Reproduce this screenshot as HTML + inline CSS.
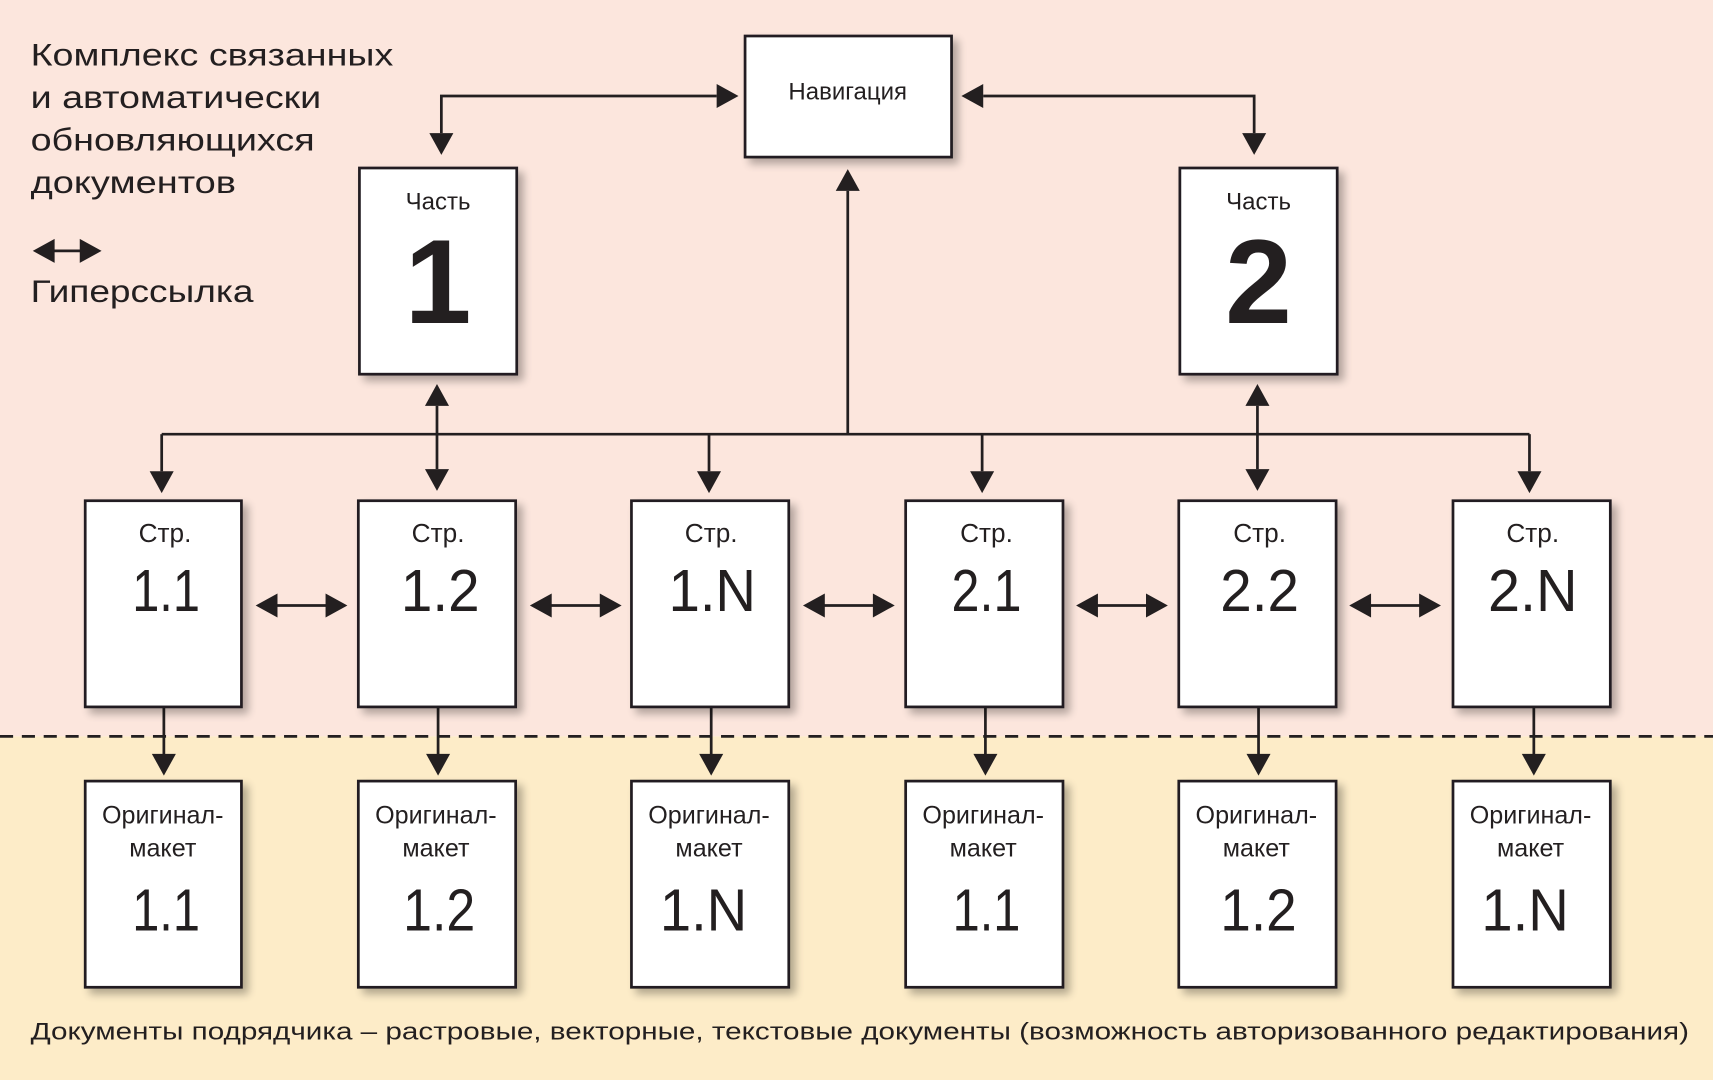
<!DOCTYPE html>
<html><head><meta charset="utf-8"><style>
html,body{margin:0;padding:0;width:1713px;height:1080px;overflow:hidden}
svg{display:block}
text{font-family:"Liberation Sans","DejaVu Sans",sans-serif;fill:#231f20}
</style></head><body>
<svg width="1713" height="1080" viewBox="0 0 1568 990" preserveAspectRatio="none" xmlns="http://www.w3.org/2000/svg">
<defs>
<filter id="sh" x="-20%" y="-20%" width="150%" height="150%"><feGaussianBlur in="SourceAlpha" stdDeviation="4"/><feOffset dx="5" dy="5"/><feComponentTransfer><feFuncA type="linear" slope="0.3"/></feComponentTransfer><feMerge><feMergeNode/><feMergeNode in="SourceGraphic"/></feMerge></filter>
<marker id="a" viewBox="0 0 10 10" refX="10" refY="5" markerWidth="10" markerHeight="10" markerUnits="userSpaceOnUse" orient="auto-start-reverse"><path d="M0,0L10,5L0,10z" fill="#231f20"/></marker>
<path id="ah" d="M0,0L-20,-11L-20,11z" fill="#231f20"/>
</defs>
<rect x="0" y="0" width="1568" height="675" fill="#fce6dd"/>
<rect x="0" y="675" width="1568" height="315" fill="#fdecc8"/>
<line x1="0" y1="675" x2="1568" y2="675" stroke="#231f20" stroke-width="2.5" stroke-dasharray="12,8"/>

<text x="28" y="60" font-size="29" textLength="332" lengthAdjust="spacingAndGlyphs">Комплекс связанных</text>
<text x="28" y="99" font-size="29" textLength="266" lengthAdjust="spacingAndGlyphs">и автоматически</text>
<text x="28" y="138" font-size="29" textLength="260" lengthAdjust="spacingAndGlyphs">обновляющихся</text>
<text x="28" y="177" font-size="29" textLength="188" lengthAdjust="spacingAndGlyphs">документов</text>
<text x="28" y="277" font-size="29" textLength="204" lengthAdjust="spacingAndGlyphs">Гиперссылка</text>
<line x1="45" y1="230" x2="78" y2="230" stroke="#231f20" stroke-width="2.5"/>
<path d="M30,230L50,219L50,241zM93,230L73,219L73,241z" fill="#231f20"/>

<g stroke="#231f20" stroke-width="2.5" fill="none">
<polyline points="404,122 404,88 656,88"/>
<polyline points="900,88 1148,88 1148,122"/>
<line x1="776" y1="175" x2="776" y2="398"/>
<line x1="148" y1="398" x2="1400" y2="398"/>
<line x1="148" y1="398" x2="148" y2="432"/><line x1="649" y1="398" x2="649" y2="432"/>
<line x1="899" y1="398" x2="899" y2="432"/><line x1="1400" y1="398" x2="1400" y2="432"/>
<line x1="400" y1="372" x2="400" y2="430"/><line x1="1151" y1="372" x2="1151" y2="430"/>
</g>
<g fill="#231f20">
<path d="M404,142l-11,-20h22z"/><path d="M1148,142l-11,-20h22z"/>
<path d="M676,88l-20,-11v22z"/><path d="M880,88l20,-11v22z"/>
<path d="M776,155l-11,20h22z"/>
<path d="M148,452l-11,-20h22z"/><path d="M649,452l-11,-20h22z"/><path d="M899,452l-11,-20h22z"/><path d="M1400,452l-11,-20h22z"/>
<path d="M400,352l-11,20h22z"/><path d="M400,450l-11,-20h22z"/>
<path d="M1151,352l-11,20h22z"/><path d="M1151,450l-11,-20h22z"/>
</g>

<!-- horizontal double arrows -->
<g>
<g transform="translate(234,555)"><line x1="18" y1="0" x2="66" y2="0" stroke="#231f20" stroke-width="2.5"/><path d="M0,0l20,-11v22zM84,0l-20,-11v22z" fill="#231f20"/></g>
<g transform="translate(485,555)"><line x1="18" y1="0" x2="66" y2="0" stroke="#231f20" stroke-width="2.5"/><path d="M0,0l20,-11v22zM84,0l-20,-11v22z" fill="#231f20"/></g>
<g transform="translate(735,555)"><line x1="18" y1="0" x2="66" y2="0" stroke="#231f20" stroke-width="2.5"/><path d="M0,0l20,-11v22zM84,0l-20,-11v22z" fill="#231f20"/></g>
<g transform="translate(985,555)"><line x1="18" y1="0" x2="66" y2="0" stroke="#231f20" stroke-width="2.5"/><path d="M0,0l20,-11v22zM84,0l-20,-11v22z" fill="#231f20"/></g>
<g transform="translate(1235,555)"><line x1="18" y1="0" x2="66" y2="0" stroke="#231f20" stroke-width="2.5"/><path d="M0,0l20,-11v22zM84,0l-20,-11v22z" fill="#231f20"/></g>
</g>

<!-- down arrows to originals -->
<g stroke="#231f20" stroke-width="2.5">
<line x1="150" y1="648" x2="150" y2="692"/><line x1="401" y1="648" x2="401" y2="692"/><line x1="651" y1="648" x2="651" y2="692"/>
<line x1="902" y1="648" x2="902" y2="692"/><line x1="1152" y1="648" x2="1152" y2="692"/><line x1="1404" y1="648" x2="1404" y2="692"/>
</g>
<g fill="#231f20">
<path d="M150,711l-11,-20h22z"/><path d="M401,711l-11,-20h22z"/><path d="M651,711l-11,-20h22z"/>
<path d="M902,711l-11,-20h22z"/><path d="M1152,711l-11,-20h22z"/><path d="M1404,711l-11,-20h22z"/>
</g>

<g fill="#fff" stroke="#231f20" stroke-width="2.5" filter="url(#sh)">
<rect x="682" y="33" width="189" height="111"/>
<rect x="329" y="154" width="144" height="189"/>
<rect x="1080" y="154" width="144" height="189"/>
<rect x="78" y="459" width="143" height="189"/><rect x="328" y="459" width="144" height="189"/>
<rect x="578" y="459" width="144" height="189"/><rect x="829" y="459" width="144" height="189"/>
<rect x="1079" y="459" width="144" height="189"/><rect x="1330" y="459" width="144" height="189"/>
<rect x="78" y="716" width="143" height="189"/><rect x="328" y="716" width="144" height="189"/>
<rect x="578" y="716" width="144" height="189"/><rect x="829" y="716" width="144" height="189"/>
<rect x="1079" y="716" width="144" height="189"/><rect x="1330" y="716" width="144" height="189"/>
</g>

<text x="776" y="91" font-size="22" text-anchor="middle">Навигация</text>
<text x="401" y="192" font-size="22" text-anchor="middle">Часть</text>
<text x="401" y="296" font-size="110" text-anchor="middle" font-weight="bold">1</text>
<text x="1152" y="192" font-size="22" text-anchor="middle">Часть</text>
<text x="1152" y="296" font-size="110" text-anchor="middle" font-weight="bold">2</text>

<g font-size="24" text-anchor="middle">
<text x="151" y="497">Стр.</text><text x="401" y="497">Стр.</text><text x="651" y="497">Стр.</text>
<text x="903" y="497">Стр.</text><text x="1153" y="497">Стр.</text><text x="1403" y="497">Стр.</text>
</g>
<g font-size="54" text-anchor="middle">
<text x="152" y="560" textLength="62" lengthAdjust="spacingAndGlyphs">1.1</text>
<text x="403" y="560" textLength="72" lengthAdjust="spacingAndGlyphs">1.2</text>
<text x="652" y="560" textLength="80" lengthAdjust="spacingAndGlyphs">1.N</text>
<text x="903" y="560" textLength="64" lengthAdjust="spacingAndGlyphs">2.1</text>
<text x="1153" y="560" textLength="72" lengthAdjust="spacingAndGlyphs">2.2</text>
<text x="1403" y="560" textLength="82" lengthAdjust="spacingAndGlyphs">2.N</text>
</g>
<g font-size="23" text-anchor="middle">
<text x="149" y="755">Оригинал-</text><text x="149" y="785">макет</text>
<text x="399" y="755">Оригинал-</text><text x="399" y="785">макет</text>
<text x="649" y="755">Оригинал-</text><text x="649" y="785">макет</text>
<text x="900" y="755">Оригинал-</text><text x="900" y="785">макет</text>
<text x="1150" y="755">Оригинал-</text><text x="1150" y="785">макет</text>
<text x="1401" y="755">Оригинал-</text><text x="1401" y="785">макет</text>
</g>
<g font-size="54" text-anchor="middle">
<text x="152" y="853" textLength="62" lengthAdjust="spacingAndGlyphs">1.1</text>
<text x="402" y="853" textLength="66" lengthAdjust="spacingAndGlyphs">1.2</text>
<text x="644" y="853" textLength="80" lengthAdjust="spacingAndGlyphs">1.N</text>
<text x="903" y="853" textLength="62" lengthAdjust="spacingAndGlyphs">1.1</text>
<text x="1152" y="853" textLength="70" lengthAdjust="spacingAndGlyphs">1.2</text>
<text x="1396" y="853" textLength="80" lengthAdjust="spacingAndGlyphs">1.N</text>
</g>
<text x="28" y="953" font-size="22" textLength="1518" lengthAdjust="spacingAndGlyphs">Документы подрядчика – растровые, векторные, текстовые документы (возможность авторизованного редактирования)</text>
</svg>
</body></html>
